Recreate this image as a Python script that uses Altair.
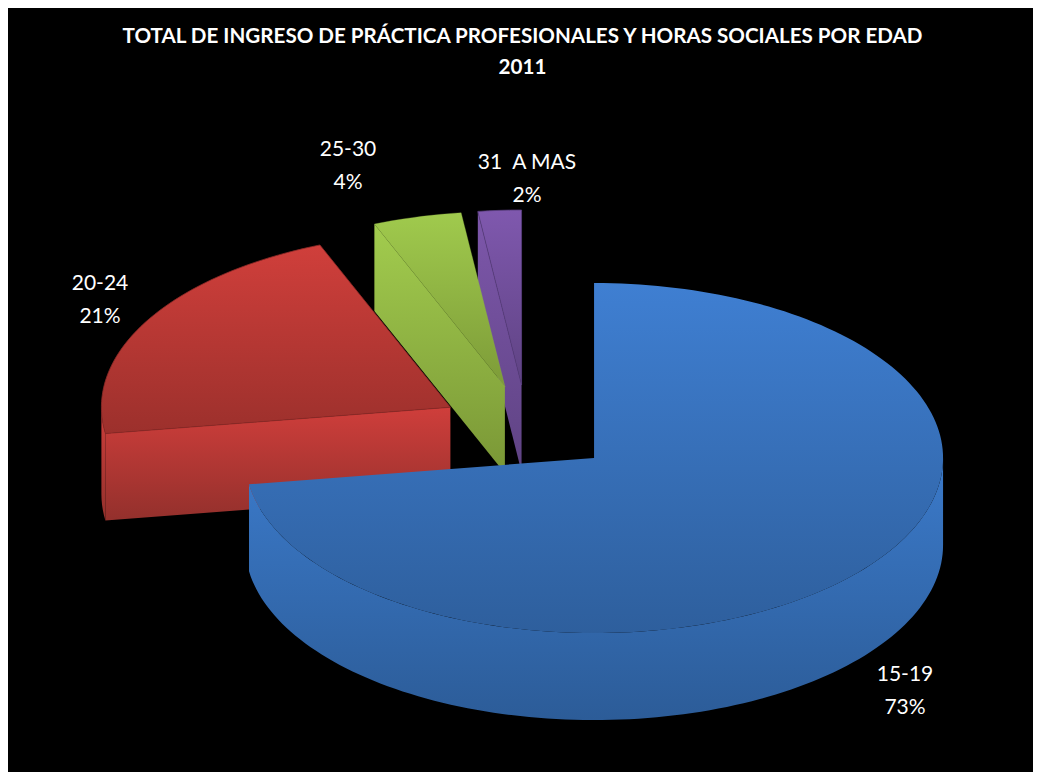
import math
import altair as alt

# Values
categories = ["15-19", "20-24", "25-30", "31\u00a0 A MAS"]
shares = [72.6, 21.3, 4.1, 2.0]
percent_labels = ["73%", "21%", "4%", "2%"]
title_lines = ["TOTAL DE INGRESO DE PRÁCTICA PROFESIONALES Y HORAS SOCIALES POR EDAD", "2011"]

# Layout / styling of the tilted, exploded pie
W, H, PAD_TOP = 1025, 764, 90
ORIGIN_X, ORIGIN_Y = 8, 8 + PAD_TOP      # page position of the view's corner
CX, CY, RX, RY = 527.1, 429.2, 349.0, 175.0
DEPTH, EXPLODE = 87.0, 0.253
label_x = [905, 100, 348, 527]
label_y = [675, 284, 150, 163]

top_stops = [[("#3f7fd2", 0), ("#2e5f9d", 1)],
             [("#d03f3b", 0), ("#9c302c", 1)],
             [("#a0ca4d", 0), ("#7d9b38", 1)],
             [("#7f58ae", 0), ("#5f4383", 1)]]
side_stops = [[("#3b7aca", 0), ("#2c5c98", 1)],
              [("#cf3e3b", 0), ("#93302c", 1)],
              [("#a2cc4e", 0), ("#7a9736", 1)],
              [("#7d57ab", 0), ("#5f4383", 1)]]
edge_colors = ["#3a74bd", "#8c2a27", "#8fb544", "#5a3f80"]
FONT = "Lato"


def gradient(stops):
    return alt.Gradient(gradient="linear", x1=0, x2=0, y1=0, y2=1,
                        stops=[alt.GradientStop(color=c, offset=o) for c, o in stops])


def point(cx, cy, deg, dy=0.0):
    a = math.radians(deg)
    return [cx + RX * math.sin(a) - ORIGIN_X, cy - RY * math.cos(a) + dy - ORIGIN_Y]


def arc(cx, cy, a0, a1, dy=0.0):
    n = max(2, int(abs(a1 - a0) / 1.5))
    return [point(cx, cy, a0 + (a1 - a0) * i / n, dy) for i in range(n + 1)]


def face(coords, fill, stroke=None, width=0.8):
    ring = coords + [coords[0]]
    feature = {"type": "Feature", "properties": {},
               "geometry": {"type": "Polygon", "coordinates": [ring]}}
    kw = dict(filled=True, fill=fill, strokeWidth=width, stroke=stroke or "transparent")
    return alt.Chart(alt.Data(values=[feature])).mark_geoshape(**kw).project(
        type="identity", scale=1, translate=[0, 0])


# Slice angles and their exploded apexes, all derived from the shares
angles = []
start = 0.0
for s in shares:
    end = start + s * 3.6
    angles.append((start, end))
    start = end

apex = []
for a0, a1 in angles:
    mid = math.radians((a0 + a1) / 2)
    apex.append((CX + EXPLODE * RX * math.sin(mid), CY - EXPLODE * RY * math.cos(mid)))

layers = []
# back to front: purple, green, red, blue
for i in [3, 2, 1, 0]:
    a0, a1 = angles[i]
    ax, ay = apex[i]
    ap = [ax - ORIGIN_X, ay - ORIGIN_Y]
    ap_low = [ap[0], ap[1] + DEPTH]
    # cut face on the starting-angle side of the left-hand slices (faces the viewer)
    if i in (1, 2, 3):
        rim0 = point(ax, ay, a0)
        rim0_low = point(ax, ay, a0, DEPTH)
        layers.append(face([rim0, ap, ap_low, rim0_low], gradient(side_stops[i])))
    # outer wall: only the front part of the rim (angles between 90 and 270)
    w0, w1 = max(a0, 90), min(a1, 270)
    if w1 > w0:
        upper = arc(ax, ay, w0, w1)
        lower = arc(ax, ay, w1, w0, DEPTH)
        layers.append(face(upper + lower, gradient(side_stops[i])))
    # top face
    layers.append(face([ap] + arc(ax, ay, a0, a1), gradient(top_stops[i]),
                       stroke=edge_colors[i] if i != 0 else None,
                       width=0.8 if i != 2 else 0.3))

labels = [{"text": f"{c}\n{p}", "x": x - ORIGIN_X, "y": y - ORIGIN_Y}
          for c, p, x, y in zip(categories, percent_labels, label_x, label_y)]
text = alt.Chart(alt.Data(values=labels)).mark_text(
    font=FONT, fontSize=21, color="white", lineBreak="\n", lineHeight=33,
    align="center", baseline="middle"
).encode(x=alt.X("x:Q", scale=None), y=alt.Y("y:Q", scale=None), text="text:N")

chart = alt.layer(*layers, text).properties(
    width=W, height=H - PAD_TOP,
    padding={"left": 0, "right": 0, "top": PAD_TOP, "bottom": 0},
    autosize=alt.AutoSizeParams(type="none"),
    background="black",
    title=alt.TitleParams(text=title_lines, font=FONT, fontSize=20.6, fontWeight="bold",
                          color="white", anchor="middle", lineHeight=31,
                          dx=2, offset=19),
).configure_view(stroke=None)

chart.save("out.html", embed_options={"renderer": "svg", "actions": False})
